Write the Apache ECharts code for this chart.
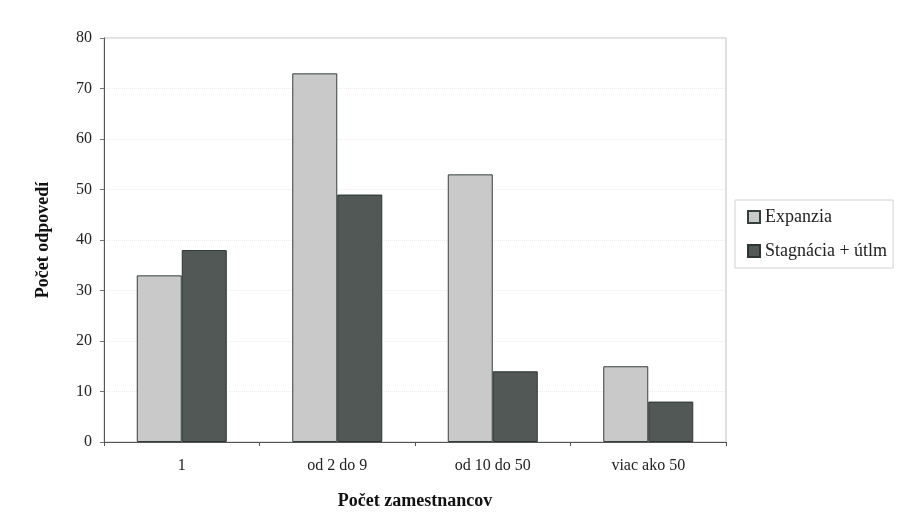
<!DOCTYPE html>
<html>
<head>
<meta charset="utf-8">
<script src="https://cdn.jsdelivr.net/npm/echarts@6/dist/echarts.min.js"></script>
<style>
  html, body { margin: 0; padding: 0; background: #fff; }
  #main { width: 915px; height: 531px; }
</style>
</head>
<body>
<div id="main"></div>
<script>
// data
const categories = ['1', 'od 2 do 9', 'od 10 do 50', 'viac ako 50'];
const expanzia = [33, 73, 53, 15];
const stagnacia = [38, 49, 14, 8];
const yTicks = [0, 10, 20, 30, 40, 50, 60, 70, 80];

const serif = '"Liberation Serif", "DejaVu Serif", serif';

const chart = echarts.init(document.getElementById('main'));

const option = {
  backgroundColor: '#ffffff',
  animation: false,
  textStyle: { fontFamily: serif },
  grid: { left: 104, right: 189, top: 38, bottom: 89, show: true, borderColor: '#c0c0c0', borderWidth: 1 },
  legend: {
    orient: 'vertical',
    left: 735,
    top: 200,
    icon: 'rect',
    itemWidth: 12,
    itemHeight: 12,
    itemGap: 16,
    padding: [8, 6, 8, 12],
    borderColor: '#d2d2d2',
    borderWidth: 1,
    textStyle: { fontFamily: serif, fontSize: 18, color: '#222' },
    data: ['Expanzia', 'Stagnácia + útlm']
  },
  xAxis: {
    type: 'category',
    data: categories,
    name: 'Počet zamestnancov',
    nameLocation: 'middle',
    nameGap: 50,
    nameTextStyle: { fontFamily: serif, fontSize: 18, fontWeight: 'bold', color: '#111' },
    axisLine: { lineStyle: { color: '#555', width: 1 } },
    axisTick: { show: true, length: 4, lineStyle: { color: '#555' } },
    axisLabel: { fontFamily: serif, fontSize: 16, color: '#222', margin: 16 }
  },
  yAxis: {
    type: 'value',
    min: 0,
    max: 80,
    interval: 10,
    name: 'Počet odpovedí',
    nameLocation: 'middle',
    nameGap: 52,
    nameTextStyle: { fontFamily: serif, fontSize: 18, fontWeight: 'bold', color: '#111' },
    axisLine: { show: true, lineStyle: { color: '#555', width: 1 } },
    axisTick: { show: true, length: 4, lineStyle: { color: '#777' } },
    axisLabel: {
      fontFamily: serif, fontSize: 16, color: '#222', margin: 12,
      formatter: v => (yTicks.indexOf(v) >= 0 ? String(v) : '')
    },
    splitLine: { show: true, lineStyle: { color: '#ececec', type: 'dotted' } }
  },
  series: [
    {
      name: 'Expanzia',
      type: 'bar',
      data: expanzia,
      barWidth: 45,
      barGap: '0%',
      itemStyle: { color: '#c9c9c9', borderColor: '#34403e', borderWidth: 1 }
    },
    {
      name: 'Stagnácia + útlm',
      type: 'bar',
      data: stagnacia,
      barWidth: 45,
      barGap: '0%',
      itemStyle: { color: '#515856', borderColor: '#2c3533', borderWidth: 1 }
    }
  ]
};

option && chart.setOption(option);
</script>
</body>
</html>
